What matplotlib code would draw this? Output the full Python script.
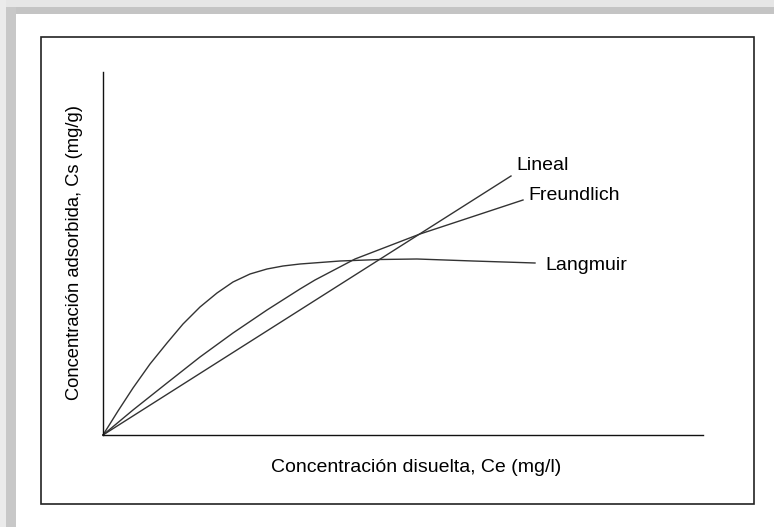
import matplotlib
matplotlib.use("Agg")
import matplotlib.pyplot as plt
from matplotlib.patches import Rectangle

plt.rcParams['font.family'] = ['Liberation Sans', 'DejaVu Sans']

# Data (arbitrary units: x 0..600, y 0..363)
lineal_x = [0, 408]
lineal_y = [0, 259]

freundlich_x = [0, 30, 64, 97, 130, 164, 197, 212, 252, 317, 420]
freundlich_y = [0, 25, 52, 78, 102, 125, 146, 155, 176, 201, 235]

langmuir_x = [0, 15, 30, 47, 64, 80, 97, 114, 130, 147, 164, 180, 197, 237, 277, 314, 370, 432]
langmuir_y = [0, 24, 47, 71, 92, 111, 128, 142, 153, 161, 166, 169, 171, 174, 175.5, 176, 174, 172]

series_labels = ["Lineal", "Freundlich", "Langmuir"]
xlabel = "Concentración disuelta, Ce (mg/l)"
ylabel = "Concentración adsorbida, Cs (mg/g)"

W, H = 774, 527
fig = plt.figure(figsize=(W / 100, H / 100), dpi=100)
fig.patch.set_facecolor("white")

# shadow border (top and left)
fig.patches.append(Rectangle((0, 1 - 7 / H), 1, 7 / H, transform=fig.transFigure,
                             facecolor="#e6e6e6", edgecolor="none", zorder=0))
fig.patches.append(Rectangle((0, 1 - 14 / H), 1, 7 / H, transform=fig.transFigure,
                             facecolor="#c4c4c4", edgecolor="none", zorder=0))
fig.patches.append(Rectangle((0, 0), 6 / W, 1, transform=fig.transFigure,
                             facecolor="#ebebeb", edgecolor="none", zorder=0))
fig.patches.append(Rectangle((6 / W, 0), 10 / W, 1 - 7 / H, transform=fig.transFigure,
                             facecolor="#c8c8c8", edgecolor="none", zorder=0))

# inner frame
fx0, fx1 = 41 / W, 754 / W
fy0, fy1 = 1 - 504 / H, 1 - 37 / H
fig.patches.append(Rectangle((fx0, fy0), fx1 - fx0, fy1 - fy0, transform=fig.transFigure,
                             facecolor="none", edgecolor="#222222", linewidth=1.2, zorder=1))

ax_l, ax_r = 103 / W, 703 / W
ax_b, ax_t = 1 - 435 / H, 1 - 72 / H
ax = fig.add_axes([ax_l, ax_b, ax_r - ax_l, ax_t - ax_b])
ax.set_facecolor("none")
ax.set_xlim(0, 600)
ax.set_ylim(0, 363)
for s in ["top", "right"]:
    ax.spines[s].set_visible(False)
for s in ["left", "bottom"]:
    ax.spines[s].set_linewidth(1.0)
    ax.spines[s].set_color("#111111")
ax.set_xticks([])
ax.set_yticks([])

lc = "#333333"
lw = 1.0
ax.plot(lineal_x, lineal_y, color=lc, lw=lw, clip_on=False)
ax.plot(freundlich_x, freundlich_y, color=lc, lw=lw, clip_on=False)
ax.plot(langmuir_x, langmuir_y, color=lc, lw=lw, clip_on=False)

fs = 14
ax.text(lineal_x[-1] + 5, lineal_y[-1] + 11, series_labels[0], fontsize=fs,
        ha="left", va="center", color="black")
ax.text(freundlich_x[-1] + 5, freundlich_y[-1] + 4, series_labels[1], fontsize=fs,
        ha="left", va="center", color="black")
ax.text(langmuir_x[-1] + 10, langmuir_y[-1] - 3, series_labels[2], fontsize=fs,
        ha="left", va="center", color="black")

fig.text(416 / W, 1 - 468 / H, xlabel, fontsize=14, ha="center", va="center")
fig.text(75 / W, 1 - 253 / H, ylabel, fontsize=13.2, ha="center", va="center",
         rotation=90)

fig.savefig("out.png", dpi=100, facecolor=fig.get_facecolor())
